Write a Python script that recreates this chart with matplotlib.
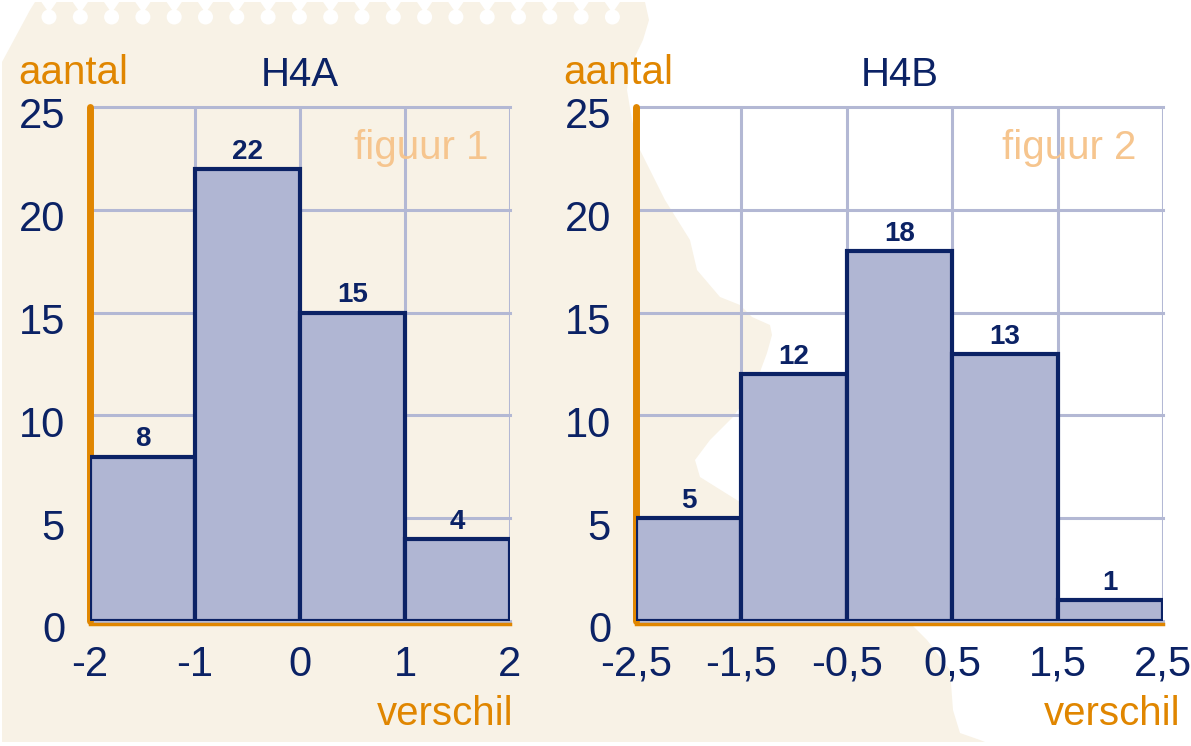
import numpy as np
import matplotlib
matplotlib.use('Agg')
import matplotlib.pyplot as plt
from matplotlib.patches import Polygon, Circle
from matplotlib.transforms import ScaledTranslation

plt.rcParams['font.family'] = ['Liberation Sans', 'DejaVu Sans']

# data
edges_a = [-2, -1, 0, 1, 2]
counts_a = [8, 22, 15, 4]
edges_b = [-2.5, -1.5, -0.5, 0.5, 1.5, 2.5]
counts_b = [5, 12, 18, 13, 1]
yticks = [0, 5, 10, 15, 20, 25]
titles = ["H4A", "H4B"]
fig_labels = ["figuur 1", "figuur 2"]

NAVY = '#0B2265'
ORANGE = '#E08600'
BEIGE = '#F8F2E6'
FILL = '#B0B6D3'
GRID = '#B3B8D4'
PALE = '#F6C58E'

fig = plt.figure(figsize=(11.91, 7.46), dpi=100)

# background: torn notebook page
bg = fig.add_axes([0, 0, 1, 1], zorder=0)
bg.set_xlim(0, 1191)
bg.set_ylim(746, 0)
bg.axis('off')
page = [(2, 742), (2, 62), (30, 10), (35, 2), (645, 2), (649, 20), (643, 40),
        (630, 67), (627, 90), (632, 120), (640, 150), (665, 200), (690, 240),
        (697, 270), (720, 297), (740, 305), (752, 317), (770, 325), (772, 335),
        (767, 353), (757, 380), (745, 400), (733, 417), (710, 440), (695, 460),
        (700, 477), (740, 502), (912, 625), (927, 640), (950, 670), (953, 710),
        (960, 733), (980, 740), (985, 742)]
bg.add_patch(Polygon(page, closed=True, facecolor=BEIGE, edgecolor='none'))
for cx in np.arange(49, 620, 31.3):
    bg.add_patch(Circle((cx, 17), 7.5, facecolor='white', edgecolor='none'))
    bg.add_patch(Polygon([(cx - 9, 0), (cx + 9, 0), (cx, 13)],
                         facecolor='white', edgecolor='none'))

def draw_hist(rect, edges, counts, title, flabel):
    ax = fig.add_axes(rect, zorder=1)
    ax.patch.set_alpha(0)
    widths = np.diff(edges)
    bars = ax.bar(edges[:-1], counts, width=widths, align='edge', color=FILL,
                  edgecolor=NAVY, linewidth=3, zorder=3)
    for b, c in zip(bars, counts):
        ax.text(b.get_x() + b.get_width() / 2, c + 0.2, str(c), ha='center',
                va='bottom', fontsize=20, fontweight='bold', color=NAVY)
    ax.set_xlim(edges[0], edges[-1])
    ax.set_ylim(0, 25)
    ax.set_xticks(edges)
    ax.set_xticklabels([f"{v:g}".replace('.', ',') for v in edges])
    ax.set_yticks(yticks)
    ax.tick_params(length=0, labelsize=30, labelcolor=NAVY)
    ax.tick_params(axis='y', pad=18)
    ax.tick_params(axis='x', pad=15)
    shift = ScaledTranslation(0, -6 / 100, fig.dpi_scale_trans)
    for lab in ax.get_yticklabels():
        lab.set_transform(lab.get_transform() + shift)
    ax.grid(True, color=GRID, linewidth=2.2)
    ax.set_axisbelow(True)
    for ln in ax.get_xgridlines() + ax.get_ygridlines():
        ln.set_clip_on(False)
    for s in ['top', 'right']:
        ax.spines[s].set_visible(False)
    ax.spines['left'].set_color(ORANGE)
    ax.spines['left'].set_linewidth(5)
    ax.spines['left'].set_capstyle('round')
    ax.spines['bottom'].set_color(ORANGE)
    ax.spines['bottom'].set_linewidth(2.5)
    ax.spines['bottom'].set_position(('outward', 2))
    ax.text(0.5, 1.062, title, transform=ax.transAxes, ha='center',
            va='center', fontsize=29, color=NAVY)
    ax.text(0.95, 0.92, flabel, transform=ax.transAxes, ha='right',
            va='center', fontsize=29, color=PALE)
    return ax

ax1 = draw_hist([90 / 1191, 125 / 746, 420 / 1191, 514 / 746],
                edges_a, counts_a, titles[0], fig_labels[0])
ax2 = draw_hist([636 / 1191, 125 / 746, 527 / 1191, 514 / 746],
                edges_b, counts_b, titles[1], fig_labels[1])

# axis names
bg.text(18, 73, "aantal", ha='left', va='center', fontsize=29, color=ORANGE)
bg.text(563, 73, "aantal", ha='left', va='center', fontsize=29, color=ORANGE)
bg.text(513, 714, "verschil", ha='right', va='center', fontsize=29, color=ORANGE)
bg.text(1180, 714, "verschil", ha='right', va='center', fontsize=29, color=ORANGE)

fig.savefig("out.png", dpi=100)
